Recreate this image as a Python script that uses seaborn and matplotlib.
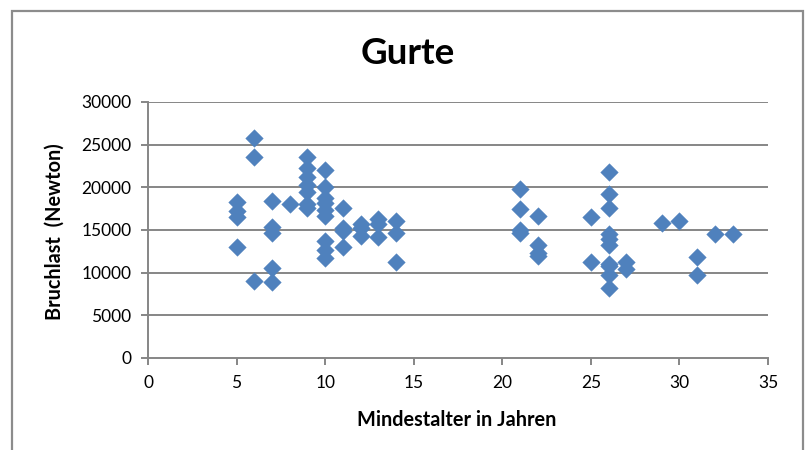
import matplotlib
matplotlib.use("Agg")
import matplotlib.pyplot as plt
import seaborn as sns
import pandas as pd
from matplotlib.patches import Rectangle

# Data: minimum age (years) and breaking load (Newton)
age_05 = [18300, 17200, 16500, 13000]
age_06 = [25800, 23500, 9000]
age_07 = [18400, 15400, 14600, 10500, 8900]
age_08 = [18100]
age_09 = [23600, 22300, 21200, 20300, 19500, 18000, 17600]
age_10 = [22000, 20000, 18700, 18200, 17300, 16600, 13700, 12600, 11700]
age_11 = [17600, 15200, 14900, 13000]
age_12 = [15700, 15200, 14300]
age_13 = [16300, 15700, 14200]
age_14 = [16000, 14600, 11200]
age_21 = [19800, 17500, 15000, 14700]
age_22 = [16600, 13300, 12300, 11900]
age_25 = [16500, 11300]
age_26 = [21800, 19200, 17600, 14500, 14000, 13300, 11000, 10800, 9700, 8200]
age_27 = [11300, 10400]
age_29 = [15800]
age_30 = [16100]
age_31 = [11800, 9700]
age_32 = [14500]
age_33 = [14500]

groups = {5: age_05, 6: age_06, 7: age_07, 8: age_08, 9: age_09, 10: age_10,
          11: age_11, 12: age_12, 13: age_13, 14: age_14, 21: age_21, 22: age_22,
          25: age_25, 26: age_26, 27: age_27, 29: age_29, 30: age_30, 31: age_31,
          32: age_32, 33: age_33}

x_ticks = [0, 5, 10, 15, 20, 25, 30, 35]
y_ticks = [0, 5000, 10000, 15000, 20000, 25000, 30000]

title = "Gurte"
x_label = "Mindestalter in Jahren"
y_label = "Bruchlast  (Newton)"

rows = [(a, v) for a, vals in groups.items() for v in vals]
df = pd.DataFrame(rows, columns=["Mindestalter", "Bruchlast"])

sns.set_theme(style="white")
plt.rcParams["font.family"] = ["Lato", "DejaVu Sans"]
plt.rcParams["text.color"] = "black"

W, H = 807, 450
fig = plt.figure(figsize=(W / 100, H / 100), dpi=100)
ax = fig.add_axes([148 / W, 1 - 358 / H, (768 - 148) / W, (358 - 102) / H])

grid_col = "#868686"
ax.set_xlim(0, 35)
ax.set_ylim(0, 30000)
for yt in y_ticks[1:]:
    ax.axhline(yt, color=grid_col, lw=1.4, zorder=0)

sns.scatterplot(data=df, x="Mindestalter", y="Bruchlast", marker="D", s=80,
                color="#4F81BD", edgecolor="#4F81BD", linewidth=0.3, ax=ax, zorder=3)

ax.set_xticks(x_ticks)
ax.set_yticks(y_ticks)
ax.set_xticklabels([str(t) for t in x_ticks])
ax.set_yticklabels([str(t) for t in y_ticks])
ax.tick_params(axis="both", which="major", labelsize=12.5, colors=grid_col,
               labelcolor="black", length=5, width=1.4, direction="out")
ax.tick_params(axis="x", pad=7, bottom=True)
ax.tick_params(axis="y", pad=7, left=True)

for side in ["top", "right"]:
    ax.spines[side].set_visible(False)
for side in ["left", "bottom"]:
    ax.spines[side].set_color(grid_col)
    ax.spines[side].set_linewidth(1.4)

ax.set_xlabel("")
ax.set_ylabel("")

fig.text(457 / W, 1 - 420 / H, x_label, ha="center", va="center",
         fontsize=14.3, fontweight="bold", color="black")
fig.text(55 / W, 1 - 232 / H, y_label, ha="center", va="center",
         rotation=90, fontsize=14.3, fontweight="bold", color="black")
fig.text(408 / W, 1 - 53 / H, title, ha="center", va="center",
         fontsize=26.5, fontweight="bold", color="black")

border = Rectangle((12 / W, -0.05), (803 - 12) / W, (1 - 11 / H) + 0.05,
                   transform=fig.transFigure, fill=False, edgecolor="#8c8c8c",
                   lw=1.6, zorder=10)
fig.patches.append(border)

fig.savefig("out.png", dpi=100)
